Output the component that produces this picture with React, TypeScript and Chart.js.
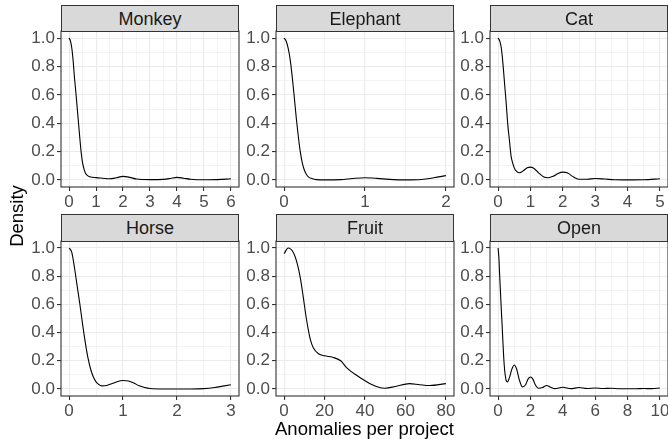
import React, { useEffect, useRef } from "react";
import { Chart, registerables } from "chart.js";

Chart.register(...registerables);

// ---------------- data ----------------
const panelNames = ["Monkey", "Elephant", "Cat", "Horse", "Fruit", "Open"];

const monkeyX = [0, 0.05, 0.1, 0.15, 0.2, 0.25, 0.3, 0.35, 0.4, 0.45, 0.5, 0.55, 0.6, 0.7, 0.8, 1.0, 1.25, 1.5, 1.75, 2.0, 2.25, 2.5, 3.0, 3.5, 3.75, 4.0, 4.25, 4.5, 5.0, 5.5, 6.0];
const monkeyY = [1.0, 0.98, 0.93, 0.84, 0.72, 0.62, 0.51, 0.4, 0.29, 0.19, 0.12, 0.08, 0.05, 0.028, 0.02, 0.016, 0.012, 0.008, 0.015, 0.025, 0.018, 0.006, 0.002, 0.004, 0.01, 0.018, 0.012, 0.005, 0.001, 0.002, 0.008];

const elephantX = [0, 0.025, 0.05, 0.075, 0.1, 0.125, 0.15, 0.175, 0.2, 0.225, 0.25, 0.275, 0.3, 0.35, 0.4, 0.5, 0.7, 0.85, 1.0, 1.15, 1.3, 1.5, 1.7, 1.85, 2.0];
const elephantY = [1.0, 0.98, 0.93, 0.85, 0.73, 0.59, 0.44, 0.31, 0.2, 0.12, 0.07, 0.04, 0.022, 0.008, 0.002, 0.0, 0.002, 0.01, 0.015, 0.011, 0.004, 0.0, 0.003, 0.015, 0.03];

const catX = [0, 0.05, 0.1, 0.15, 0.2, 0.25, 0.3, 0.35, 0.4, 0.45, 0.5, 0.55, 0.65, 0.75, 0.9, 1.0, 1.1, 1.25, 1.4, 1.55, 1.7, 1.85, 2.0, 2.15, 2.3, 2.5, 2.75, 3.0, 3.3, 3.6, 4.0, 4.5, 5.0];
const catY = [1.0, 0.98, 0.93, 0.82, 0.68, 0.54, 0.39, 0.28, 0.17, 0.12, 0.085, 0.065, 0.05, 0.06, 0.085, 0.09, 0.082, 0.05, 0.022, 0.015, 0.025, 0.045, 0.055, 0.048, 0.025, 0.005, 0.005, 0.01, 0.006, 0.001, 0.0, 0.001, 0.008];

const horseX = [0, 0.05, 0.1, 0.15, 0.2, 0.25, 0.3, 0.35, 0.4, 0.45, 0.5, 0.55, 0.6, 0.7, 0.8, 0.9, 1.0, 1.1, 1.2, 1.3, 1.4, 1.5, 1.75, 2.0, 2.25, 2.5, 2.7, 2.85, 3.0];
const horseY = [1.0, 0.97, 0.86, 0.73, 0.6, 0.46, 0.33, 0.22, 0.14, 0.085, 0.05, 0.032, 0.022, 0.025, 0.038, 0.053, 0.06, 0.056, 0.042, 0.022, 0.01, 0.003, 0.0, 0.0, 0.0, 0.002, 0.01, 0.02, 0.03];

const fruitX = [0, 2, 4.5, 6.5, 8, 9.5, 11, 13, 14.5, 17, 20, 24, 28, 31, 36, 41, 46, 50, 55, 62, 67, 72, 80];
const fruitY = [0.96, 1.0, 0.97, 0.89, 0.79, 0.65, 0.5, 0.35, 0.29, 0.25, 0.235, 0.225, 0.2, 0.15, 0.095, 0.05, 0.016, 0.005, 0.018, 0.038, 0.03, 0.024, 0.038];

const openX = [0, 0.05, 0.1, 0.15, 0.2, 0.25, 0.3, 0.35, 0.4, 0.45, 0.5, 0.58, 0.7, 0.85, 1.0, 1.15, 1.3, 1.5, 1.7, 1.85, 2.0, 2.15, 2.3, 2.5, 2.75, 3.0, 3.25, 3.5, 4.0, 4.5, 5.0, 5.5, 6.0, 6.5, 7.0, 7.5, 8.0, 8.5, 9.0, 9.5, 10.0];
const openY = [1.0, 0.93, 0.8, 0.68, 0.56, 0.45, 0.33, 0.22, 0.14, 0.09, 0.06, 0.05, 0.08, 0.14, 0.17, 0.14, 0.07, 0.015, 0.03, 0.07, 0.085, 0.07, 0.03, 0.005, 0.01, 0.025, 0.012, 0.002, 0.012, 0.002, 0.01, 0.003, 0.007, 0.003, 0.005, 0.001, 0.001, 0.001, 0.003, 0.002, 0.007];

const monkeyTicks = [0, 1, 2, 3, 4, 5, 6];
const elephantTicks = [0, 1, 2];
const catTicks = [0, 1, 2, 3, 4, 5];
const horseTicks = [0, 1, 2, 3];
const fruitTicks = [0, 20, 40, 60, 80];
const openTicks = [0, 2, 4, 6, 8, 10];

const yTicks = [0, 0.2, 0.4, 0.6, 0.8, 1.0];

const xTitle = "Anomalies per project";
const yTitle = "Density";

// ---------------- layout ----------------
const FONT = '"Liberation Sans", Arial, Helvetica, sans-serif';
const TICK_SIZE = 17;
const STRIP_SIZE = 18;
const TITLE_SIZE = 18.5;
const YW = 42; // space for y labels
const XH = 26; // space for x labels
const PT = 14; // top pad
const PR = 16; // right pad

const colLefts = [61, 276, 490];
const panelW = 178;
const rowTops = [31, 241];
const rowHeights = [156, 155];
const stripTops = [5, 214];
const stripHeights = [27, 28];

function midpoints(a: number[]): number[] {
  const r: number[] = [];
  for (let i = 0; i < a.length - 1; i++) r.push((a[i] + a[i + 1]) / 2);
  return r;
}
function inList(a: number[], v: number): boolean {
  return a.some((t) => Math.abs(t - v) < 1e-9);
}

const borderPlugin = {
  id: "panelBorder",
  afterDraw(chart: any) {
    const { ctx, chartArea } = chart;
    const { left, top, right, bottom } = chartArea;
    ctx.save();
    ctx.strokeStyle = "#333333";
    ctx.lineWidth = 1.1;
    ctx.strokeRect(left, top, right - left, bottom - top);
    ctx.restore();
  },
};

type PanelProps = {
  xs: number[];
  ys: number[];
  ticks: number[];
  left: number;
  top: number;
  width: number;
  height: number;
};

function Panel({ xs, ys, ticks, left, top, width, height }: PanelProps) {
  const ref = useRef<HTMLCanvasElement>(null);
  useEffect(() => {
    if (!ref.current) return;
    const span = ticks[ticks.length - 1] - ticks[0];
    const xMin = ticks[0] - 0.05 * span;
    const xMax = ticks[ticks.length - 1] + 0.05 * span;
    const xAll = [...ticks, ...midpoints(ticks)].sort((a, b) => a - b);
    const yAll = [...yTicks, ...midpoints(yTicks)].sort((a, b) => a - b);

    const chart = new Chart(ref.current, {
      type: "line",
      data: {
        datasets: [
          {
            data: xs.map((x, i) => ({ x, y: ys[i] })),
            borderColor: "#000000",
            borderWidth: 1.1,
            pointRadius: 0,
            cubicInterpolationMode: "monotone",
            fill: false,
          },
        ],
      },
      options: {
        animation: false,
        responsive: true,
        maintainAspectRatio: false,
        events: [],
        layout: { padding: { left: 0, top: PT, right: PR, bottom: 0 } },
        plugins: { legend: { display: false }, tooltip: { enabled: false } },
        scales: {
          x: {
            type: "linear",
            min: xMin,
            max: xMax,
            afterBuildTicks: (s: any) => {
              s.ticks = xAll.map((v) => ({ value: v }));
            },
            afterFit: (s: any) => {
              s.height = XH;
            },
            border: { display: false },
            grid: {
              color: "#EBEBEB",
              lineWidth: (c: any) => (inList(ticks, c.tick.value) ? 1.1 : 0.55),
              tickColor: (c: any) => (inList(ticks, c.tick.value) ? "#333333" : "rgba(0,0,0,0)"),
              tickLength: 4,
              tickWidth: 1.1,
            },
            ticks: {
              autoSkip: false,
              maxRotation: 0,
              minRotation: 0,
              padding: 1,
              color: "#4D4D4D",
              font: { family: FONT, size: TICK_SIZE },
              callback: (v: any) => (inList(ticks, Number(v)) ? String(v) : ""),
            },
          },
          y: {
            type: "linear",
            min: -0.05,
            max: 1.05,
            afterBuildTicks: (s: any) => {
              s.ticks = yAll.map((v) => ({ value: v }));
            },
            afterFit: (s: any) => {
              s.width = YW;
            },
            border: { display: false },
            grid: {
              color: "#EBEBEB",
              lineWidth: (c: any) => (inList(yTicks, c.tick.value) ? 1.1 : 0.55),
              tickColor: (c: any) => (inList(yTicks, c.tick.value) ? "#333333" : "rgba(0,0,0,0)"),
              tickLength: 4,
              tickWidth: 1.1,
            },
            ticks: {
              autoSkip: false,
              padding: 2,
              color: "#4D4D4D",
              font: { family: FONT, size: TICK_SIZE },
              callback: (v: any) => (inList(yTicks, Number(v)) ? Number(v).toFixed(1) : ""),
            },
          },
        },
      } as any,
      plugins: [borderPlugin],
    });
    return () => chart.destroy();
  }, []);

  return (
    <div
      style={{
        position: "absolute",
        left: left - YW,
        top: top - PT,
        width: width + YW + PR,
        height: height + PT + XH,
      }}
    >
      <canvas ref={ref} />
    </div>
  );
}

const panelXs = [monkeyX, elephantX, catX, horseX, fruitX, openX];
const panelYs = [monkeyY, elephantY, catY, horseY, fruitY, openY];
const panelTicks = [monkeyTicks, elephantTicks, catTicks, horseTicks, fruitTicks, openTicks];

export default function App() {
  return (
    <div
      style={{
        position: "absolute",
        left: 0,
        top: 0,
        width: 668,
        height: 439,
        overflow: "hidden",
        background: "#FFFFFF",
        fontFamily: FONT,
      }}
    >
      {panelNames.map((name, i) => {
        const r = Math.floor(i / 3);
        const c = i % 3;
        return (
          <Panel
            key={name}
            xs={panelXs[i]}
            ys={panelYs[i]}
            ticks={panelTicks[i]}
            left={colLefts[c]}
            top={rowTops[r]}
            width={panelW}
            height={rowHeights[r]}
          />
        );
      })}
      {panelNames.map((name, i) => {
        const r = Math.floor(i / 3);
        const c = i % 3;
        return (
          <div
            key={"s" + name}
            style={{
              position: "absolute",
              left: colLefts[c],
              top: stripTops[r],
              width: panelW,
              height: stripHeights[r],
              boxSizing: "border-box",
              border: "1.1px solid #333333",
              background: "#D9D9D9",
              color: "#1A1A1A",
              fontSize: STRIP_SIZE,
              display: "flex",
              alignItems: "center",
              justifyContent: "center",
              lineHeight: "20px",
              whiteSpace: "nowrap",
            }}
          >
            {name}
          </div>
        );
      })}
      <div
        style={{
          position: "absolute",
          left: 61,
          width: 607,
          top: 419,
          height: 20,
          lineHeight: "20px",
          textAlign: "center",
          fontSize: TITLE_SIZE,
          color: "#000000",
          whiteSpace: "nowrap",
        }}
      >
        {xTitle}
      </div>
      <div
        style={{
          position: "absolute",
          left: 16.5 - 60,
          top: 216 - 10,
          width: 120,
          height: 20,
          lineHeight: "20px",
          textAlign: "center",
          fontSize: TITLE_SIZE,
          color: "#000000",
          transform: "rotate(-90deg)",
          whiteSpace: "nowrap",
        }}
      >
        {yTitle}
      </div>
    </div>
  );
}
